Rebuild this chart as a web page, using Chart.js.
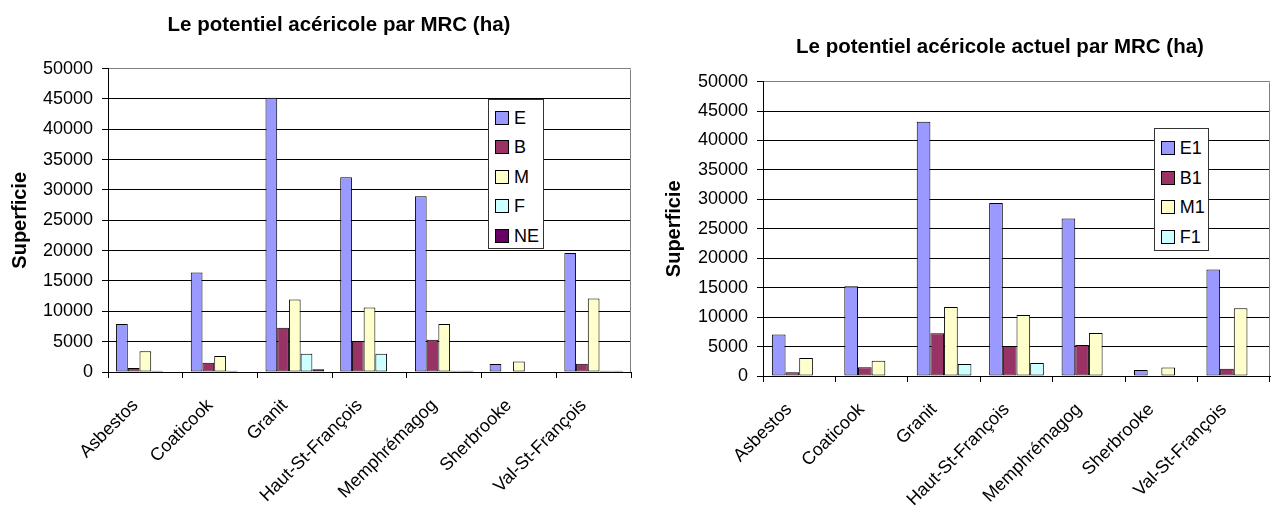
<!DOCTYPE html>
<html>
<head>
<meta charset="utf-8">
<script src="https://cdn.jsdelivr.net/npm/chart.js@4.4.1/dist/chart.umd.min.js"></script>
<style>
html,body{margin:0;padding:0;background:#fff;overflow:hidden;width:1277px;height:508px;position:relative;}
.wrap{position:absolute;top:0;}
canvas{display:block;}
.legend{position:absolute;background:#fff;border:1px solid #333;box-sizing:border-box;font:18px "Liberation Sans",Arial,sans-serif;color:#000;z-index:5;}
.legend .item{position:absolute;left:0;height:20px;line-height:20px;white-space:nowrap;}
.legend .sw{position:absolute;top:3px;width:14px;height:14px;border:1px solid #000;box-sizing:border-box;}
.legend .tx{position:absolute;top:0;}
</style>
</head>
<body>
<div class="wrap" style="left:0px;width:678px;height:508px;"><canvas id="c1" width="678" height="508"></canvas></div>
<div class="wrap" style="left:640px;width:720px;height:508px;"><canvas id="c2" width="720" height="508"></canvas></div>
<div id="lg1" class="legend" style="left:488px;top:99px;width:56px;height:150px;"></div>
<div id="lg2" class="legend" style="left:1154px;top:128px;width:55px;height:123px;"></div>
<script>
const FONT = '"Liberation Sans", Arial, sans-serif';

// ---- Data ----
const categories = ['Asbestos','Coaticook','Granit','Haut-St-François','Memphrémagog','Sherbrooke','Val-St-François'];

// Chart 1: Le potentiel acéricole par MRC (ha)
const seriesE  = [7900, 16400, 45200, 32100, 28950, 1300, 19600];
const seriesB  = [650, 1530, 7300, 5100, 5300, 0, 1370];
const seriesM  = [3400, 2630, 11950, 10650, 7900, 1750, 12100];
const seriesF  = [200, 200, 3000, 3000, 200, 0, 200];
const seriesNE = [0, 0, 440, 0, 200, 0, 200];

// Chart 2: Le potentiel acéricole actuel par MRC (ha)
const seriesE1 = [7050, 15250, 43200, 29400, 26750, 1000, 18100];
const seriesB1 = [620, 1470, 7280, 5080, 5250, 0, 1250];
const seriesM1 = [3050, 2600, 11700, 10350, 7300, 1450, 11500];
const seriesF1 = [0, 0, 2030, 2200, 0, 0, 0];

const yTickLabels = ['0','5000','10000','15000','20000','25000','30000','35000','40000','45000','50000'];
const yMax = 50000, yStep = 5000;

const COLORS = {E:'#9999FF', B:'#993366', M:'#FFFFCC', F:'#CCFFFF', NE:'#660066'};

const frame = {
  id:'frame',
  beforeDatasetsDraw(chart){
    const {ctx, chartArea:a} = chart;
    ctx.save();
    ctx.strokeStyle = '#808080';
    ctx.lineWidth = 1;
    ctx.beginPath();
    ctx.moveTo(Math.round(a.right)-0.5, Math.round(a.top)+0.5);
    ctx.lineTo(Math.round(a.right)-0.5, Math.round(a.bottom));
    ctx.stroke();
    ctx.restore();
  }
};

function buildChart(id, series, cfg){
  return new Chart(document.getElementById(id), {
    type:'bar',
    data:{
      labels: categories,
      datasets: series.map(s => ({
        label: s.label, data: s.data, backgroundColor: s.color,
        borderColor:'#000', borderWidth:1, borderSkipped:false,
        categoryPercentage: cfg.catPct, barPercentage: 1, yAxisID:'y'
      }))
    },
    options:{
      responsive:false, animation:false, devicePixelRatio:1,
      layout:{padding:{left:0, right:0, top:0, bottom:0}},
      plugins:{
        legend:{display:false},
        tooltip:{enabled:false},
        title:{display:true, text:cfg.title, color:'#000',
          font:{family:FONT, size:20.5, weight:'bold'},
          padding:{top:cfg.titleTop, bottom:cfg.titleBottom}}
      },
      scales:{
        x:{
          grid:{display:true, drawOnChartArea:false, drawTicks:true, tickLength:6, color:'#000', offset:true},
          border:{display:true, color:'#000', width:1},
          ticks:{color:'#000', font:{family:FONT, size:18}, minRotation:45, maxRotation:45, autoSkip:false, padding:17, labelOffset:-10},
          afterFit(s){ s.height = cfg.xHeight; }
        },
        y:{
          position:'left', min:0, max:yMax,
          ticks:{stepSize:yStep, color:'#000', font:{family:FONT, size:18}, padding:9,
            callback:(v, i) => yTickLabels[i]},
          grid:{color: c => (c.tick && c.tick.value === yMax) ? '#808080' : '#000', tickColor:'#000', tickLength:6, lineWidth:1},
          border:{display:true, color:'#000', width:1},
          title:{display:true, text:'Superficie', color:'#000',
            font:{family:FONT, size:20, weight:'bold'}, padding:{top:cfg.yTitlePad, bottom:0}},
          afterFit(s){ s.width = cfg.yWidth; }
        },
        yR:{
          type:'linear', position:'right', display:true, min:0, max:yMax,
          grid:{display:false, drawTicks:false},
          border:{display:false},
          ticks:{display:false},
          afterFit(s){ s.width = cfg.rightSpace; }
        }
      }
    },
    plugins:[frame]
  });
}

function buildLegend(id, series, firstY, step, swLeft, txLeft){
  const el = document.getElementById(id);
  series.forEach((s, i) => {
    const it = document.createElement('div');
    it.className = 'item';
    it.style.top = (firstY + i*step - 10) + 'px';
    const sw = document.createElement('div');
    sw.className = 'sw'; sw.style.left = swLeft + 'px'; sw.style.background = s.color;
    const tx = document.createElement('div');
    tx.className = 'tx'; tx.style.left = txLeft + 'px'; tx.textContent = s.label;
    it.appendChild(sw); it.appendChild(tx);
    el.appendChild(it);
  });
}

const series1 = [
  {label:'E', data:seriesE, color:COLORS.E},
  {label:'B', data:seriesB, color:COLORS.B},
  {label:'M', data:seriesM, color:COLORS.M},
  {label:'F', data:seriesF, color:COLORS.F},
  {label:'NE', data:seriesNE, color:COLORS.NE}
];
const series2 = [
  {label:'E1', data:seriesE1, color:COLORS.E},
  {label:'B1', data:seriesB1, color:COLORS.B},
  {label:'M1', data:seriesM1, color:COLORS.M},
  {label:'F1', data:seriesF1, color:COLORS.F}
];

buildChart('c1', series1, {
  title:'Le potentiel acéricole par MRC (ha)',
  yWidth:108, rightSpace:678-631, xHeight:508-372,
  titleTop:13, titleBottom:31, yTitlePad:8, catPct:0.784
});
buildChart('c2', series2, {
  title:'Le potentiel acéricole actuel par MRC (ha)',
  yWidth:123, rightSpace:720-630, xHeight:508-376,
  titleTop:35, titleBottom:22, yTitlePad:22, catPct:0.755
});

buildLegend('lg1', series1, 17.7, 29.5, 6, 25);
buildLegend('lg2', series2, 19.3, 29.5, 6, 24.7);
</script>
</body>
</html>
